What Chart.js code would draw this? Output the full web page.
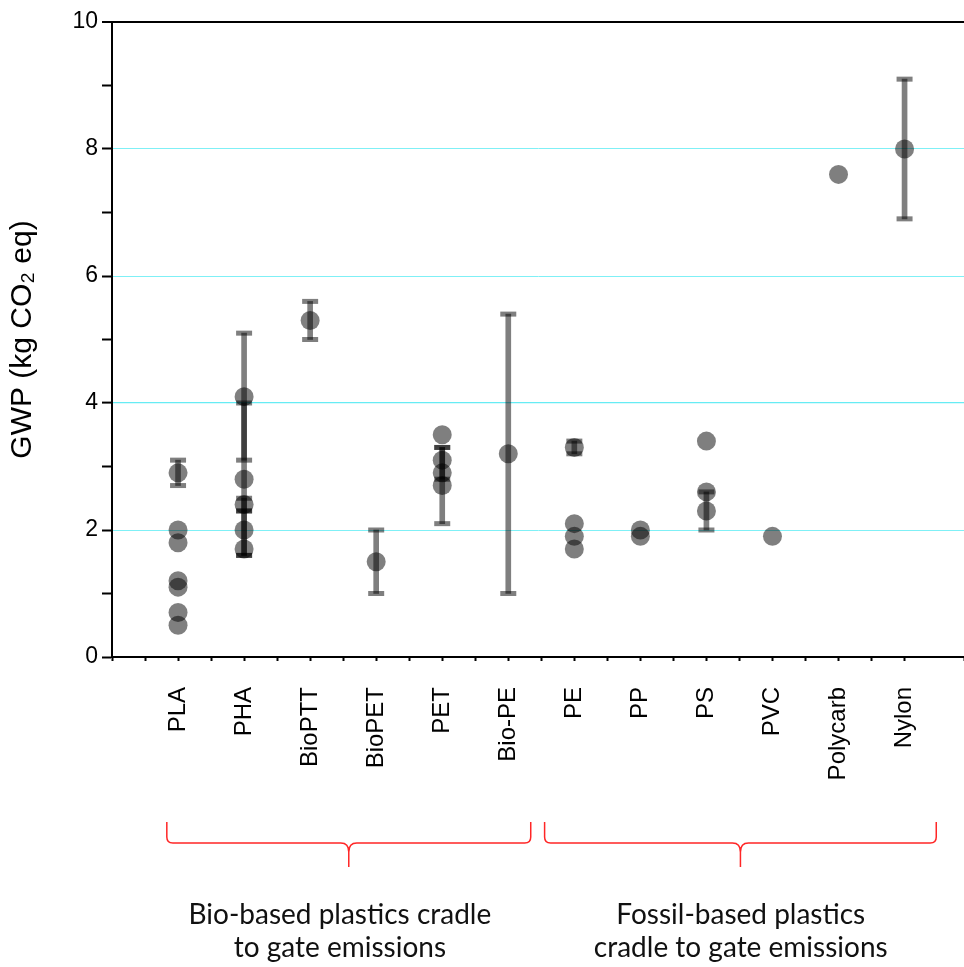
<!DOCTYPE html>
<html>
<head>
<meta charset="utf-8">
<script src="https://cdn.jsdelivr.net/npm/chart.js@4.4.1/dist/chart.umd.min.js"></script>
<style>
  html, body { margin: 0; padding: 0; background: #fff; }
  #wrap { position: relative; width: 964px; height: 967px; }
</style>
</head>
<body>
<div id="wrap"><canvas id="c"></canvas></div>
<script>
// ---- data ----
const categories = ['PLA', 'PHA', 'BioPTT', 'BioPET', 'PET', 'Bio-PE', 'PE', 'PP', 'PS', 'PVC', 'Polycarb', 'Nylon'];
const gwpPoints = [
  [2.9, 2.0, 1.8, 1.2, 1.1, 0.7, 0.5], // PLA
  [4.1, 2.8, 2.4, 2.0, 1.7],           // PHA
  [5.3],                               // BioPTT
  [1.5],                               // BioPET
  [3.5, 3.1, 2.9, 2.7],                // PET
  [3.2],                               // Bio-PE
  [3.3, 2.1, 1.9, 1.7],                // PE
  [2.0, 1.9],                          // PP
  [3.4, 2.6, 2.3],                     // PS
  [1.9],                               // PVC
  [7.6],                               // Polycarb
  [8.0]                                // Nylon
];
const errCategory = ['PLA', 'PHA', 'PHA', 'PHA', 'PHA', 'BioPTT', 'BioPET', 'PET', 'PET', 'Bio-PE', 'PE', 'PS', 'Nylon'];
const errLow  = [2.7, 3.1, 1.6, 2.3, 1.6, 5.0, 1.0, 2.1, 2.8, 1.0, 3.2, 2.0, 6.9];
const errHigh = [3.1, 5.1, 4.0, 2.5, 2.3, 5.6, 2.0, 3.3, 3.3, 5.4, 3.4, 2.6, 9.1];
const yTicks = [0, 2, 4, 6, 8, 10];
const groupLabels = [
  ['Bio-based plastics cradle', 'to gate emissions'],
  ['Fossil-based plastics', 'cradle to gate emissions']
];

// ---- build datasets ----
const pointData = [];
categories.forEach((c, i) => gwpPoints[i].forEach(v => pointData.push({ x: i + 1, y: v })));
const barData = errCategory.map((c, k) => ({ x: categories.indexOf(c) + 1, y: [errLow[k], errHigh[k]] }));
const capData = [];
errCategory.forEach((c, k) => {
  const xi = categories.indexOf(c) + 1;
  capData.push({ x: xi, y: errLow[k] });
  capData.push({ x: xi, y: errHigh[k] });
});

const markColor = 'rgba(0,0,0,0.5)';
const gridCyan = '#7ff0f6';
const none = 'rgba(255,255,255,0)';
// one entry per y tick 0..10
const yGridColors = [none, none, gridCyan, none, '#66ecf4', none, gridCyan, none, gridCyan, none, '#000'];
const yGridWidths = [1, 1, 1, 1, 1.2, 1, 1, 1, 1, 1, 2];

const bracePlugin = {
  id: 'braces',
  afterDraw(chart, args, opts) {
    const ctx = chart.ctx;
    const xs = chart.scales.x;
    ctx.save();
    ctx.strokeStyle = opts.color;
    ctx.lineWidth = 1.5;
    opts.spans.forEach((span, g) => {
      const x1 = xs.getPixelForValue(span[0]);
      const x2 = xs.getPixelForValue(span[1]);
      const xm = (x1 + x2) / 2;
      const yTop = opts.yTop, yMid = opts.yMid, yTip = opts.yTip;
      ctx.beginPath();
      ctx.moveTo(x1, yTop);
      ctx.lineTo(x1, yMid - 6);
      ctx.quadraticCurveTo(x1, yMid, x1 + 6, yMid);
      ctx.lineTo(xm - 8, yMid);
      ctx.quadraticCurveTo(xm, yMid, xm, yMid + 9);
      ctx.lineTo(xm, yTip);
      ctx.moveTo(xm, yMid + 9);
      ctx.quadraticCurveTo(xm, yMid, xm + 8, yMid);
      ctx.lineTo(x2 - 6, yMid);
      ctx.quadraticCurveTo(x2, yMid, x2, yMid - 6);
      ctx.lineTo(x2, yTop);
      ctx.stroke();
      // group text
      ctx.fillStyle = '#111';
      ctx.font = opts.font;
      ctx.textAlign = 'center';
      ctx.textBaseline = 'middle';
      const tx = xs.getPixelForValue(opts.textCenters[g]);
      groupLabels[g].forEach((line, li) => {
        ctx.fillText(line, tx, opts.textY + li * opts.lineGap);
      });
    });
    ctx.restore();
  }
};

new Chart(document.getElementById('c'), {
  type: 'scatter',
  data: {
    datasets: [
      {
        type: 'scatter',
        label: 'GWP',
        data: pointData,
        backgroundColor: markColor,
        borderWidth: 0,
        pointRadius: 9.5,
        pointHoverRadius: 9.5,
        order: 1
      },
      {
        type: 'scatter',
        label: 'caps',
        data: capData,
        pointStyle: 'line',
        borderColor: markColor,
        borderWidth: 5,
        pointRadius: 8,
        pointHoverRadius: 8,
        order: 2
      },
      {
        type: 'bar',
        label: 'range',
        data: barData,
        backgroundColor: markColor,
        borderWidth: 0,
        barThickness: 5,
        order: 3
      }
    ]
  },
  options: {
    responsive: true,
    maintainAspectRatio: false,
    animation: false,
    events: [],
    layout: { autoPadding: false, padding: { top: 22, left: 0, right: 0, bottom: 0 } },
    plugins: {
      legend: { display: false },
      tooltip: { enabled: false },
      braces: {
        color: '#ff2626',
        spans: [[0.83, 6.34], [6.55, 12.48]],
        textCenters: [3.45, 9.52],
        yTop: 822, yMid: 843, yTip: 867,
        textY: 915, lineGap: 33,
        font: '28px Lato'
      }
    },
    scales: {
      x: {
        type: 'linear',
        min: 0,
        max: 12.9,
        offset: false,
        border: { color: '#000', width: 2 },
        grid: {
          offset: false,
          drawOnChartArea: false,
          drawTicks: true,
          tickLength: 4,
          tickColor: '#000',
          tickWidth: 2
        },
        ticks: {
          stepSize: 0.5,
          autoSkip: false,
          minRotation: 90,
          maxRotation: 90,
          padding: 26,
          color: '#000',
          font: { family: 'Liberation Sans, Arial, sans-serif', size: 24 },
          callback: (v) => {
            const i = Math.round(v * 2) / 2;
            return Number.isInteger(i) && i >= 1 && i <= categories.length ? categories[i - 1] : '';
          }
        },
        afterFit: (s) => { s.height = 310; s.paddingLeft = 0; s.paddingRight = 0; }
      },
      y: {
        type: 'linear',
        min: 0,
        max: 10,
        border: { color: '#000', width: 2 },
        grid: {
          color: yGridColors,
          lineWidth: yGridWidths,
          tickColor: '#000',
          tickWidth: 2,
          tickLength: 10
        },
        ticks: {
          stepSize: 1,
          padding: 4,
          color: '#000',
          font: { family: 'Liberation Sans, Arial, sans-serif', size: 23 },
          callback: (v) => (yTicks.includes(v) ? String(v) : '')
        },
        title: {
          display: true,
          text: 'GWP (kg CO\u2082 eq)',
          color: '#000',
          font: { family: 'Liberation Sans, Arial, sans-serif', size: 30 },
          padding: { top: 5, bottom: 0 }
        },
        afterFit: (s) => { s.width = 112; }
      }
    }
  },
  plugins: [bracePlugin]
});
</script>
</body>
</html>
